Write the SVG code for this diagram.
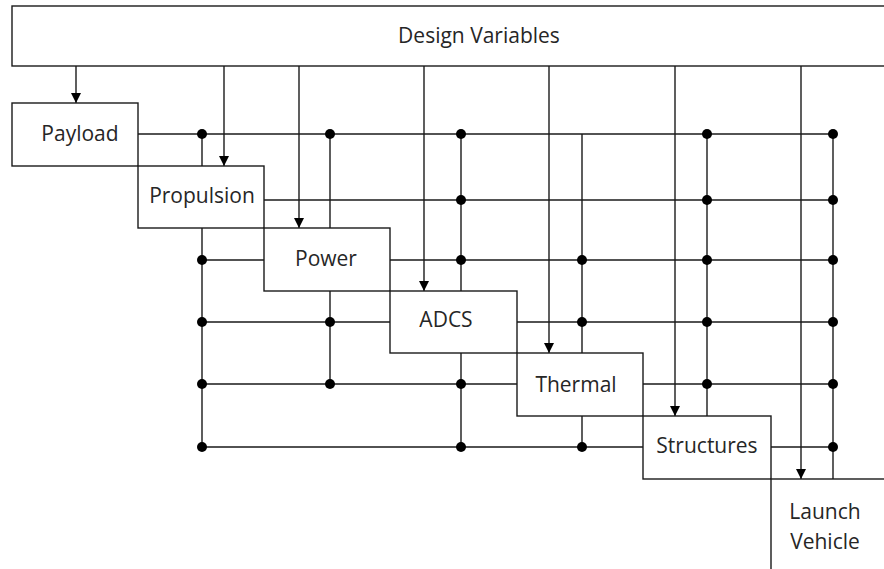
<svg xmlns="http://www.w3.org/2000/svg" width="884" height="569" viewBox="0 0 884 569">
<style>
.box{fill:#fff;stroke:#1a1a1a;stroke-width:1.4}
.lbl{font-family:"Open Sans","Noto Sans","Liberation Sans",sans-serif;font-size:21px;fill:#262626;text-anchor:middle}
.ln{fill:none;stroke:#1a1a1a;stroke-width:1.4}
.dot{fill:#000}
</style>
<defs>
<marker id="arr" viewBox="0 0 10 10" refX="10" refY="5" markerWidth="10" markerHeight="10" markerUnits="userSpaceOnUse" orient="auto">
<path d="M0,0 L10,5 L0,10 Z" fill="#000"/>
</marker>
</defs>
<rect width="884" height="569" fill="#fff"/>
<g id="connectors">
<!-- design variable arrows -->
<path class="ln" marker-end="url(#arr)" d="M76,66 V103"/>
<path class="ln" marker-end="url(#arr)" d="M224,66 V166"/>
<path class="ln" marker-end="url(#arr)" d="M299,66 V228"/>
<path class="ln" marker-end="url(#arr)" d="M424,66 V291"/>
<path class="ln" marker-end="url(#arr)" d="M549,66 V353"/>
<path class="ln" marker-end="url(#arr)" d="M675,66 V416"/>
<path class="ln" marker-end="url(#arr)" d="M801,66 V479"/>
<!-- rows -->
<path class="ln" d="M138,134 H833"/>
<path class="ln" d="M264,200 H833"/>
<path class="ln" d="M202,260 H264 M390,260 H833"/>
<path class="ln" d="M202,322 H390 M517,322 H833"/>
<path class="ln" d="M202,384 H517 M643,384 H833"/>
<path class="ln" d="M202,447 H643 M771,447 H833"/>
<!-- columns -->
<path class="ln" d="M202,134 V166 M202,228 V447"/>
<path class="ln" d="M330,134 V228 M330,291 V384"/>
<path class="ln" d="M461,134 V291 M461,353 V447"/>
<path class="ln" d="M582,134 V353 M582,416 V447"/>
<path class="ln" d="M707,134 V416"/>
<path class="ln" d="M833,134 V479"/>
<!-- junction dots -->
<circle class="dot" cx="202" cy="134" r="5"/>
<circle class="dot" cx="330" cy="134" r="5"/>
<circle class="dot" cx="461" cy="134" r="5"/>
<circle class="dot" cx="707" cy="134" r="5"/>
<circle class="dot" cx="833" cy="134" r="5"/>
<circle class="dot" cx="461" cy="200" r="5"/>
<circle class="dot" cx="707" cy="200" r="5"/>
<circle class="dot" cx="833" cy="200" r="5"/>
<circle class="dot" cx="202" cy="260" r="5"/>
<circle class="dot" cx="461" cy="260" r="5"/>
<circle class="dot" cx="582" cy="260" r="5"/>
<circle class="dot" cx="707" cy="260" r="5"/>
<circle class="dot" cx="833" cy="260" r="5"/>
<circle class="dot" cx="202" cy="322" r="5"/>
<circle class="dot" cx="330" cy="322" r="5"/>
<circle class="dot" cx="582" cy="322" r="5"/>
<circle class="dot" cx="707" cy="322" r="5"/>
<circle class="dot" cx="833" cy="322" r="5"/>
<circle class="dot" cx="202" cy="384" r="5"/>
<circle class="dot" cx="330" cy="384" r="5"/>
<circle class="dot" cx="461" cy="384" r="5"/>
<circle class="dot" cx="707" cy="384" r="5"/>
<circle class="dot" cx="833" cy="384" r="5"/>
<circle class="dot" cx="202" cy="447" r="5"/>
<circle class="dot" cx="461" cy="447" r="5"/>
<circle class="dot" cx="582" cy="447" r="5"/>
<circle class="dot" cx="833" cy="447" r="5"/>
</g>
<g id="design-variables">
<rect class="box" x="12" y="6" width="890" height="60"/>
<text class="lbl" x="479" y="43">Design Variables</text>
</g>
<g id="payload">
<rect class="box" x="12" y="103" width="126" height="63"/>
<text class="lbl" x="80" y="141">Payload</text>
</g>
<g id="propulsion">
<rect class="box" x="138" y="166" width="126" height="62"/>
<text class="lbl" x="202" y="203">Propulsion</text>
</g>
<g id="power">
<rect class="box" x="264" y="228" width="126" height="63"/>
<text class="lbl" x="326" y="266">Power</text>
</g>
<g id="adcs">
<rect class="box" x="390" y="291" width="127" height="62"/>
<text class="lbl" x="446" y="327">ADCS</text>
</g>
<g id="thermal">
<rect class="box" x="517" y="353" width="126" height="63"/>
<text class="lbl" x="576" y="392">Thermal</text>
</g>
<g id="structures">
<rect class="box" x="643" y="416" width="128" height="63"/>
<text class="lbl" x="707" y="453">Structures</text>
</g>
<g id="launch-vehicle">
<rect class="box" x="771" y="479" width="130" height="110"/>
<text class="lbl" x="825" y="519">Launch</text>
<text class="lbl" x="825" y="549">Vehicle</text>
</g>
</svg>
